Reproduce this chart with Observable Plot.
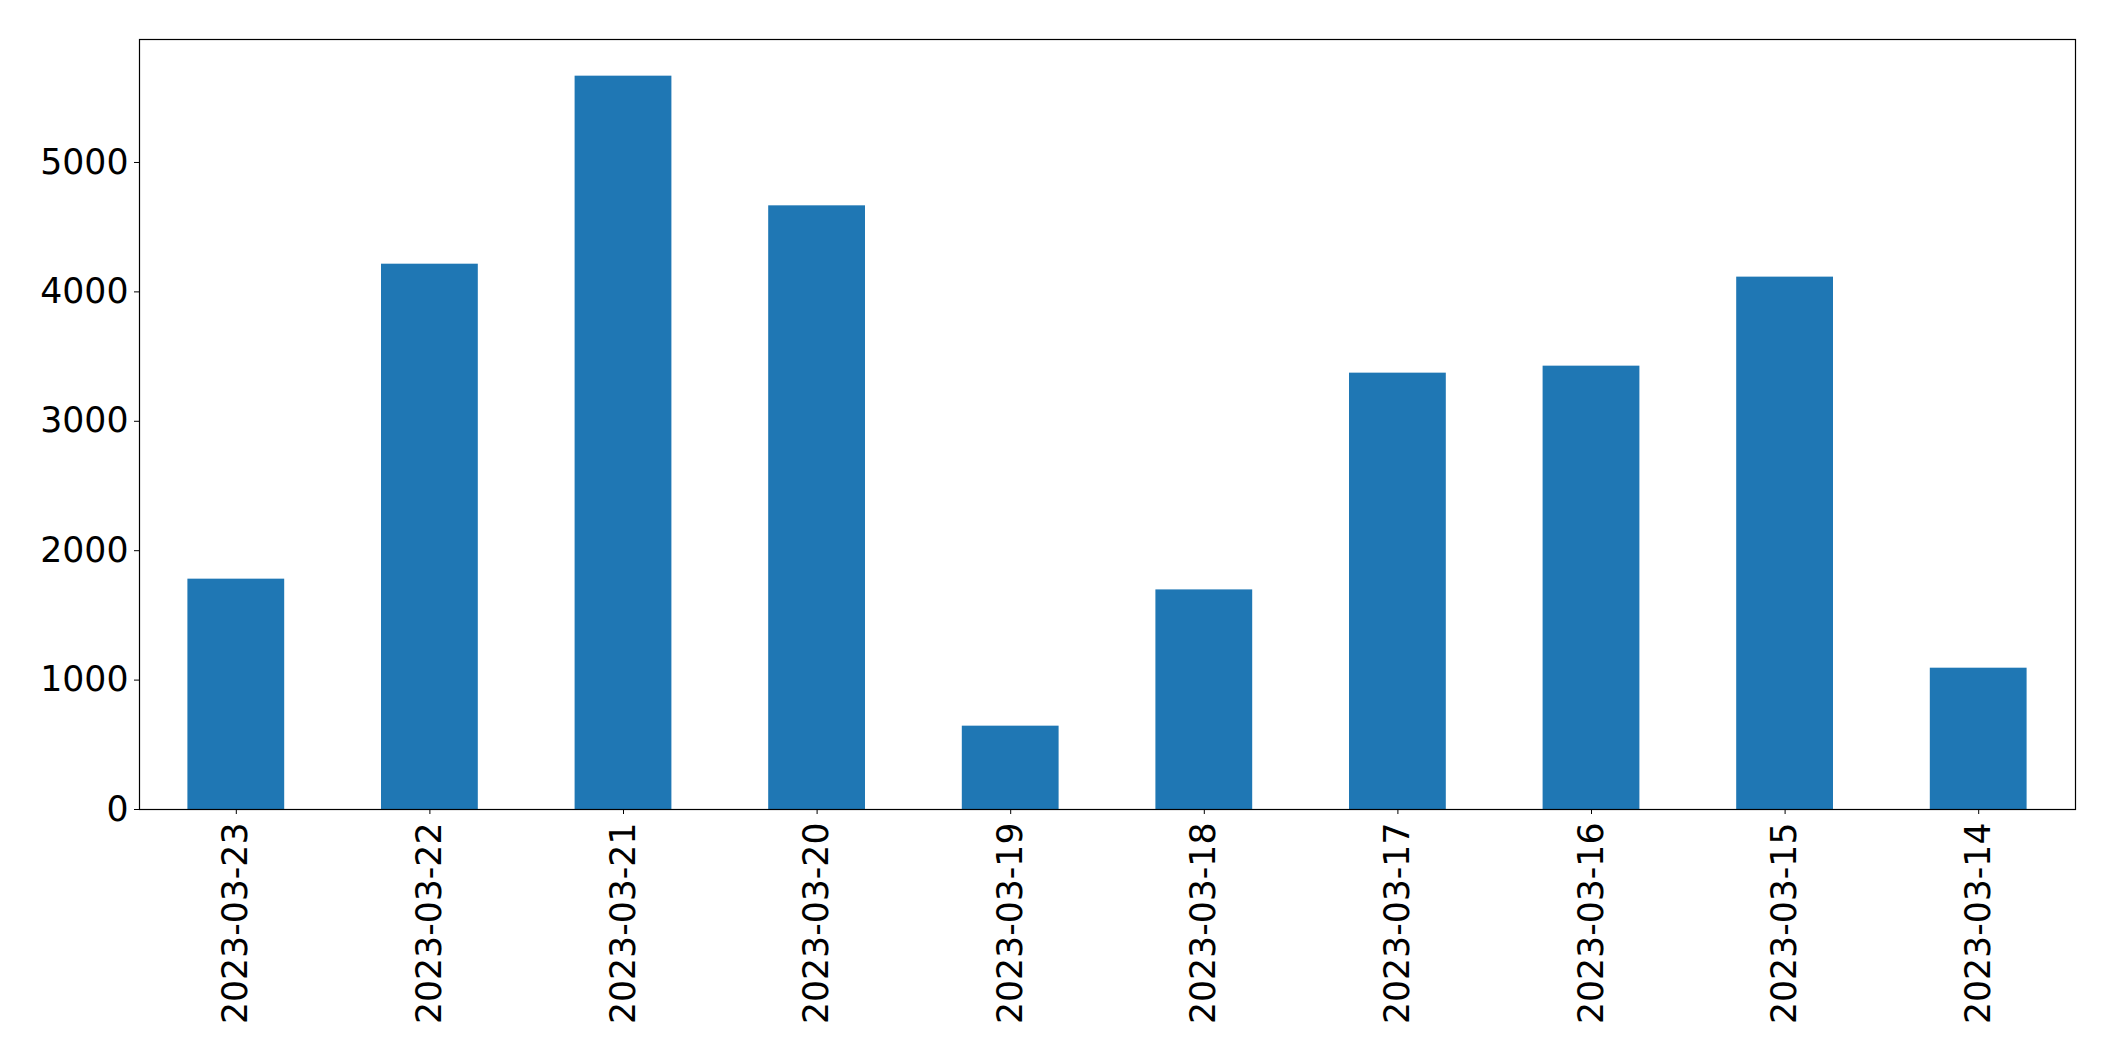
<!DOCTYPE html>
<html>
<head>
<meta charset="utf-8">
<script src="https://cdn.jsdelivr.net/npm/d3@7"></script>
<script src="https://cdn.jsdelivr.net/npm/@observablehq/plot@0.6"></script>
<style>
  html, body { margin: 0; padding: 0; background: #fff; }
  #chart { width: 2115px; height: 1061px; }
</style>
</head>
<body>
<div id="chart"></div>
<script>
const dates = ["2023-03-23","2023-03-22","2023-03-21","2023-03-20","2023-03-19","2023-03-18","2023-03-17","2023-03-16","2023-03-15","2023-03-14"];
const counts = [1780, 4214, 5667, 4665, 644, 1697, 3372, 3426, 4114, 1092];
const yTicks = [0, 1000, 2000, 3000, 4000, 5000];

const data = dates.map((d, i) => ({date: d, count: counts[i]}));
const yMax = d3.max(counts) * 1.05;

const chart = Plot.plot({
  width: 2115,
  height: 1061,
  marginLeft: 139,
  marginRight: 40,
  marginTop: 39,
  marginBottom: 252,
  style: {fontFamily: "'DejaVu Sans', sans-serif", fontSize: "34.7px", color: "black", background: "white"},
  x: {domain: dates, paddingInner: 0.5, paddingOuter: 0.25, align: 0.5, round: false, label: null},
  y: {domain: [0, yMax], label: null},
  marks: [
    Plot.barY(data, {x: "date", y: "count", fill: "#1f77b4"}),
    Plot.axisY({ticks: yTicks, tickFormat: d3.format("d"), tickSize: 5, tickPadding: 6, fontSize: 34.7, label: null}),
    Plot.axisX({tickSize: 5, tickPadding: 8, tickRotate: -90, fontSize: 34.7, label: null}),
    Plot.frame({stroke: "black", strokeWidth: 1.2})
  ]
});
document.getElementById("chart").appendChild(chart);
</script>
</body>
</html>
